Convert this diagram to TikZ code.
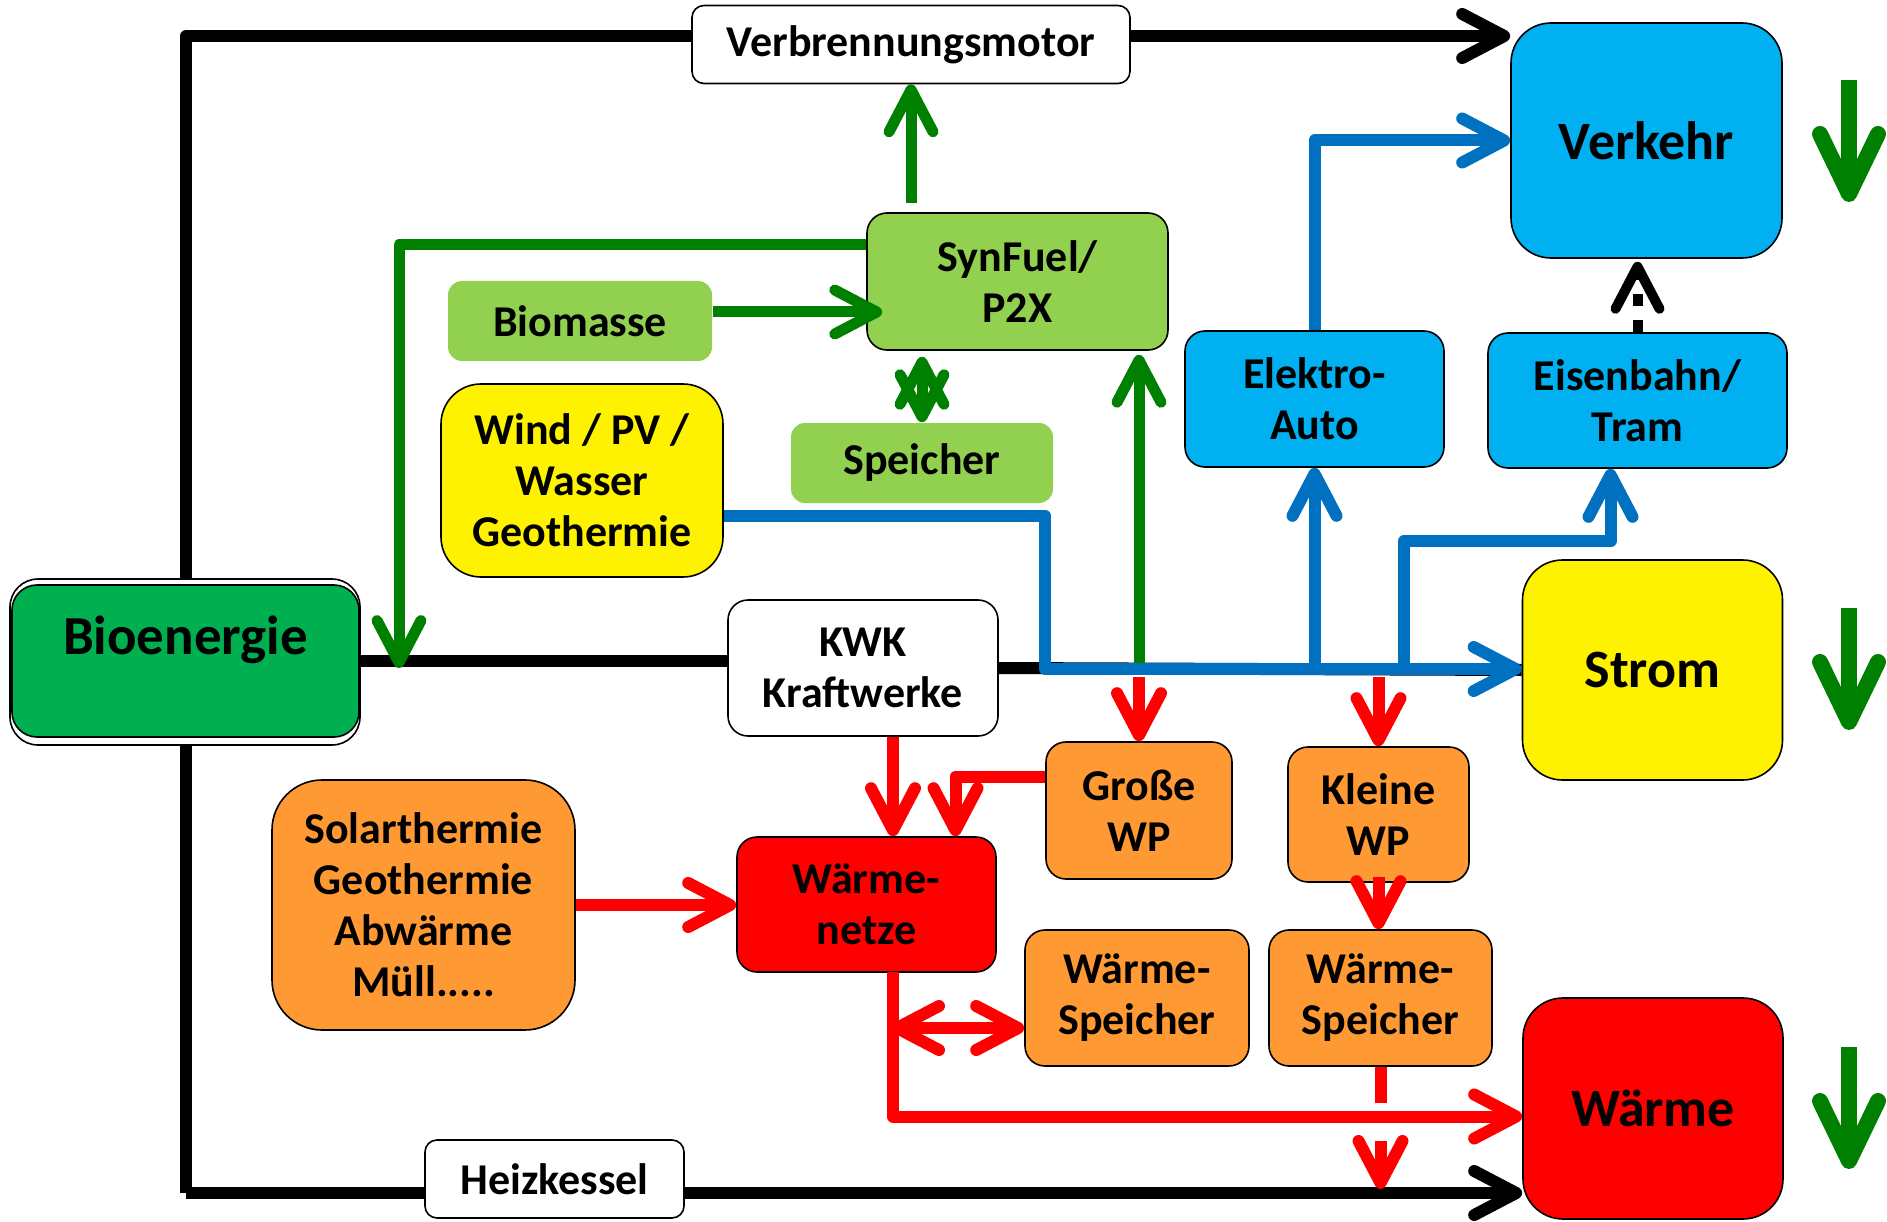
\documentclass[tikz,border=0pt]{standalone}
\usepackage{fontspec}
\setmainfont{Carlito}
\usetikzlibrary{arrows.meta,backgrounds}
\definecolor{lightgreen}{HTML}{92D050}
\definecolor{darkgreen}{HTML}{008000}
\definecolor{bioenergy}{HTML}{00B050}
\definecolor{boxblue}{HTML}{00B0F0}
\definecolor{lineblue}{HTML}{0070C0}
\definecolor{heatorange}{HTML}{FF9933}
\newcommand{\smalltext}{\bfseries\fontsize{44}{51}\selectfont}
\newcommand{\bigtext}{\bfseries\fontsize{54}{60}\selectfont}
\tikzset{
  dims/.style 2 args={minimum width=#1pt, minimum height=#2pt},
  box/.style={draw, line width=1.6pt, rounded corners=20pt, align=center, font=\smalltext, inner sep=0pt},
  plainbox/.style={box, draw=none, fill=lightgreen, rounded corners=14pt},
  sector/.style={box, rounded corners=40pt, font=\bigtext},
  >={Straight Barb[length=42pt,width=44pt,round]},
  blackline/.style={line width=12pt, line join=round},
  blackflow/.style={blackline, ->},
  greenflow/.style={draw=darkgreen, line width=11pt, line join=round, ->},
  blueflow/.style={draw=lineblue, line width=12pt, line join=round, ->},
  redflow/.style={draw=red, line width=12pt, line join=round, ->},
  bigdown/.style={draw=darkgreen, line width=16pt, -{Straight Barb[length=60pt,width=58pt,round]}}
}
\begin{document}
\begin{tikzpicture}[x=1pt,y=-1pt]
\useasboundingbox (0,0) rectangle (1887,1222);
% Sectors on the right
\node[sector, fill=boxblue, dims={271}{235}] (Verkehr) at (1646.5,140.5) {Verkehr};
\node[sector, fill=yellow, dims={260}{220}] (Strom) at (1652.5,670) {Strom};
\node[sector, fill=red, dims={260}{221}] (Waerme) at (1653,1108.5) {Wärme};
% Sources and converters
\node[box, fill=white, rounded corners=12pt, dims={438}{78}] (Verbr) at (911,44.5) {Verbrennungsmotor};
\node[box, fill=lightgreen, dims={301}{137}] (SynFuel) at (1017.5,281.5) {SynFuel/\\P2X};
\node[plainbox, dims={264}{80}] (Biomasse) at (580,321) {Biomasse};
\node[box, fill=yellow, rounded corners=40pt, dims={282}{193}] (Wind) at (582,480.5) {Wind / PV /\\Wasser\\Geothermie};
\node[plainbox, dims={262}{80}] (Speicher) at (922,463) {Speicher};
\node[box, fill=boxblue, dims={259}{136}] (Elektro) at (1314.5,399) {Elektro-\\Auto};
\node[box, fill=boxblue, dims={299}{135}] (Bahn) at (1637.5,400.5) {Eisenbahn/\\Tram};
\node[box, fill=white, rounded corners=28pt, dims={350}{166}] (bioframe) at (185,662) {};
\node[box, fill=bioenergy, rounded corners=25pt, dims={347}{152}, font=\bfseries\fontsize{55}{52}\selectfont] (Bio) at (185.5,661) {Bioenergie\\~};
\node[box, fill=white, dims={270}{136}] (KWK) at (863,668) {KWK\\Kraftwerke};
\node[box, fill=heatorange, dims={186}{137}] (GrosseWP) at (1139,810.5) {Große\\WP};
\node[box, fill=heatorange, dims={181}{135}] (KleineWP) at (1378.5,814.5) {Kleine\\WP};
\node[box, fill=heatorange, rounded corners=50pt, dims={303}{250}] (Solar) at (423.5,905) {Solarthermie\\Geothermie\\Abwärme\\Müll.....};
\node[box, fill=red, dims={259}{135}] (Netze) at (866.5,904.5) {Wärme-\\netze};
\node[box, fill=heatorange, dims={224}{136}] (WSpA) at (1137,998) {Wärme-\\Speicher};
\node[box, fill=heatorange, dims={223}{136}] (WSpB) at (1380.5,998) {Wärme-\\Speicher};
\node[box, fill=white, rounded corners=12pt, dims={259}{78}] (Heiz) at (554.5,1179) {Heizkessel};
% Junction points
\coordinate (topleft) at (186,36);
\coordinate (bottomleft) at (186,1193);
\coordinate (biotap) at (399,668);
\coordinate (bend) at (1045,669);
\coordinate (tramtap) at (1404,541);
\coordinate (netzdown) at (893,972);
% Fossil paths behind the boxes
\begin{scope}[on background layer]
\draw[blackflow] (bottomleft) |- (Verkehr.west |- topleft);
\draw[blackflow] (bottomleft) -- (Waerme.west |- bottomleft);
\draw[blackline] (Bio.east) -- (Bio.east -| KWK.west);
\draw[blackline] (KWK.east) -- (Strom.west);
\end{scope}
% Green paths
\draw[greenflow, shorten <=9pt] (SynFuel.north -| Verbr.south) -- (Verbr.south);
\draw[greenflow] ([yshift=37pt]SynFuel.west) -| (biotap);
\draw[greenflow, shorten >=-16pt] ([yshift=9pt]Biomasse.east) -- ([yshift=9pt]Biomasse.east -| SynFuel.west);
\draw[greenflow, <->, shorten <=6pt] (Speicher.north |- SynFuel.south) -- (Speicher.north);
\draw[greenflow, shorten >=4pt] (GrosseWP.north |- Strom.west) -- (GrosseWP.north |- SynFuel.south);
% Electricity
\draw[blueflow] ([yshift=-35pt]Wind.east) -| (bend) -- (bend -| Strom.west);
\draw[blueflow] (Elektro.south |- Strom.west) -- (Elektro.south);
\draw[blueflow] (Elektro.north) |- (Verkehr.west);
\draw[blueflow] (tramtap |- Strom.west) -- (tramtap) -| ([xshift=-27pt]Bahn.south);
\draw[blackflow, line width=10pt, dash pattern=on 12pt off 14pt, shorten >=3pt] (Bahn.north) -- (Bahn.north |- Verkehr.south);
% Heat
\draw[redflow] ([yshift=-7pt]GrosseWP.north |- Strom.west) -- (GrosseWP.north);
\draw[redflow] ([yshift=-7pt]KleineWP.north |- Strom.west) -- (KleineWP.north);
\draw[redflow] ([yshift=6pt]KleineWP.south) -- (KleineWP.south |- WSpB.north);
\draw[redflow, dash pattern=on 36pt off 38pt, shorten >=4pt] (WSpB.south) -- (WSpB.south |- bottomleft);
\draw[redflow] (KWK.south -| netzdown) -- (Netze.north -| netzdown);
\draw[redflow] ([yshift=34pt]GrosseWP.west) -| ([xshift=89pt]Netze.north);
\draw[redflow] (Solar.east) -- (Solar.east -| Netze.west);
\draw[redflow] (netzdown) |- ([yshift=-8pt]Waerme.west);
\draw[redflow, <->, shorten <=-2pt] ([yshift=-30pt]WSpA.west -| netzdown) -- ([yshift=-30pt]WSpA.west);
% Trends
\foreach \y in {80,608,1047}
  \draw[bigdown] (1849,\y) -- ++(0,122);
\end{tikzpicture}
\end{document}
